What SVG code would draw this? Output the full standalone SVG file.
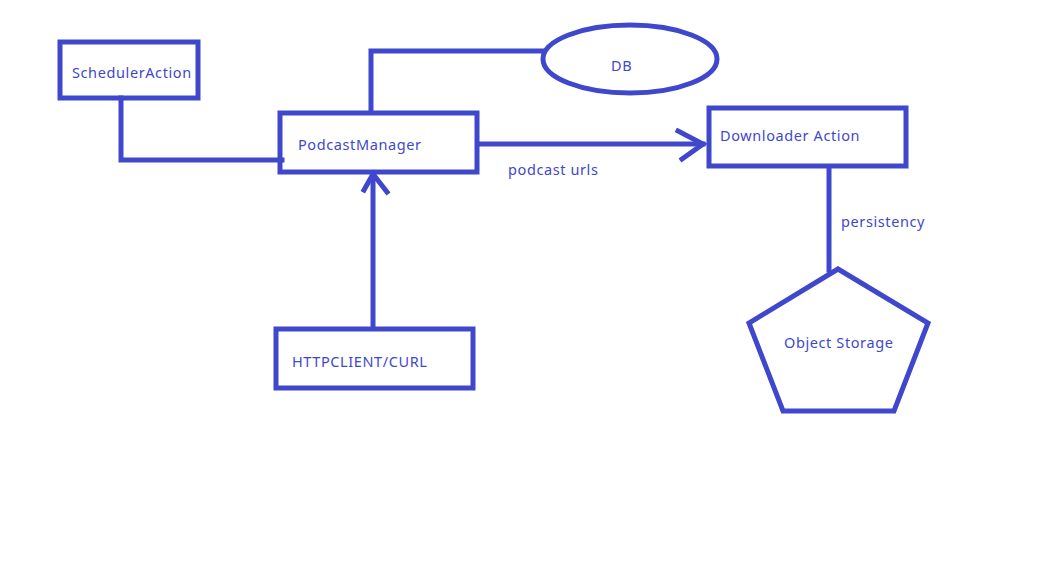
<svg xmlns="http://www.w3.org/2000/svg" width="1053" height="564" viewBox="0 0 1053 564">
<style>
.s{fill:none;stroke:#3f48cc;stroke-width:5;stroke-linecap:square}
.t{font-family:"Noto Sans","Open Sans",sans-serif;font-size:14.5px;letter-spacing:0.6px;fill:#3f48cc}
</style>
<rect width="1053" height="564" fill="#fff"/>
<g id="connectors">
<polyline class="s" points="121,98 121,160 282,160"/>
<polyline class="s" points="371,111 371,51 543,51"/>
<line class="s" x1="479" y1="144" x2="703" y2="144"/>
<polyline class="s" points="678,131 703,144 682,159"/>
<line class="s" x1="373" y1="327" x2="373" y2="176"/>
<polyline class="s" points="364,190 373,174 387,192"/>
<line class="s" x1="829" y1="168" x2="829" y2="270"/>
<text class="t" x="508" y="175">podcast urls</text>
<text class="t" x="841" y="227">persistency</text>
</g>
<g id="scheduler">
<rect class="s" x="60" y="42" width="138" height="56"/>
<text class="t" x="72" y="78">SchedulerAction</text>
</g>
<g id="podcastmanager">
<rect class="s" x="280" y="113" width="197" height="59"/>
<text class="t" x="298" y="150">PodcastManager</text>
</g>
<g id="db">
<ellipse class="s" cx="630" cy="59" rx="87" ry="34"/>
<text class="t" x="611" y="71">DB</text>
</g>
<g id="downloader">
<rect class="s" x="709" y="108" width="197" height="58"/>
<text class="t" x="720" y="141">Downloader Action</text>
</g>
<g id="httpclient">
<rect class="s" x="276" y="329" width="197" height="59"/>
<text class="t" x="292" y="367">HTTPCLIENT/CURL</text>
</g>
<g id="objectstorage">
<polygon class="s" points="838,269 749,323 783,411 894,411 928,323" style="stroke-linejoin:miter"/>
<text class="t" x="784" y="348">Object Storage</text>
</g>
</svg>
